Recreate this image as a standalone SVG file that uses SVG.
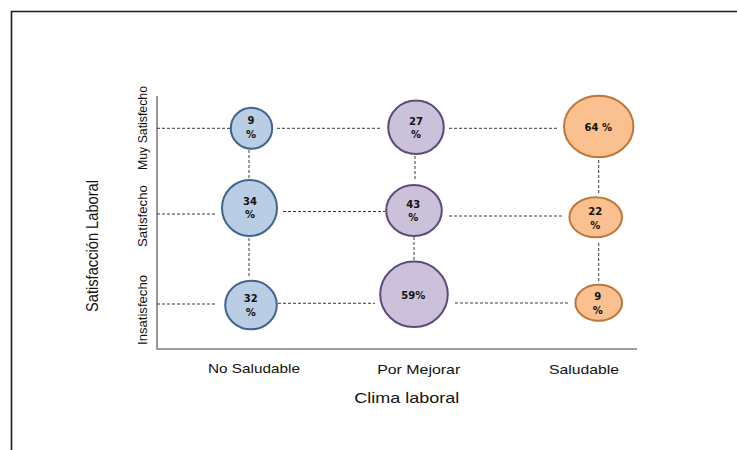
<svg xmlns="http://www.w3.org/2000/svg" width="737" height="450" viewBox="0 0 737 450">
<style>
.frame{fill:none;stroke:#1a1a1a;stroke-width:1.6}
.axis{fill:none;stroke:#808080;stroke-width:1.6}
.dash{fill:none;stroke:#3a3a3a;stroke-width:1;stroke-dasharray:3 2}
.blue{fill:#B9CDE5;stroke:#41648F;stroke-width:2}
.purple{fill:#CCC1DA;stroke:#5F497A;stroke-width:2}
.orange{fill:#FAC090;stroke:#BE763A;stroke-width:2}
.val{font-family:"DejaVu Sans",Verdana,sans-serif;font-weight:bold;font-size:10px;fill:#111;text-anchor:middle}
.cat{font-family:"Liberation Sans",Arial,sans-serif;font-size:13px;fill:#111;text-anchor:middle}
.title{font-family:"Liberation Sans",Arial,sans-serif;font-size:15px;fill:#111;text-anchor:middle}
.ytitle{font-family:"Liberation Sans",Arial,sans-serif;font-size:17px;fill:#111;text-anchor:middle}
</style>
<rect width="737" height="450" fill="#fff"/>
<path class="frame" d="M11.5,450 V11.5 H737"/>
<g id="axes">
<path class="axis" d="M157,96 V349 H637"/>
</g>
<g id="connectors">
<path class="dash" d="M157,128.3 H230 M277,128.3 H381 M449,128.3 H559"/>
<path class="dash" d="M157,214 H217 M283,211.5 H385 M449,216 H564"/>
<path class="dash" d="M157,304 H217 M278,303.3 H375 M455,303 H569"/>
<path class="dash" d="M249,150 V178 M249,238 V278"/>
<path class="dash" d="M415,156 V180 M414,237 V260"/>
<path class="dash" d="M598.7,160 V195 M598.7,243 V282"/>
</g>
<g id="node-ns-muy"><ellipse class="blue" cx="251.5" cy="128.3" rx="20.7" ry="20.5"/><text class="val" x="251" y="124.2">9</text><text class="val" x="251" y="137.5">%</text></g>
<g id="node-ns-sat"><ellipse class="blue" cx="249.5" cy="208" rx="27.5" ry="28"/><text class="val" x="250" y="205">34</text><text class="val" x="250" y="218">%</text></g>
<g id="node-ns-ins"><ellipse class="blue" cx="251" cy="305" rx="25.8" ry="24.3"/><text class="val" x="250.7" y="301.8">32</text><text class="val" x="250.7" y="316">%</text></g>
<g id="node-pm-muy"><ellipse class="purple" cx="416" cy="127.3" rx="27.8" ry="26.7"/><text class="val" x="416" y="125.2">27</text><text class="val" x="416" y="137.8">%</text></g>
<g id="node-pm-sat"><ellipse class="purple" cx="414" cy="210.5" rx="27.8" ry="25.5"/><text class="val" x="413.3" y="207.8">43</text><text class="val" x="413.3" y="221.2">%</text></g>
<g id="node-pm-ins"><ellipse class="purple" cx="414" cy="294.3" rx="33.8" ry="32.7"/><text class="val" x="413.3" y="298.5">59%</text></g>
<g id="node-s-muy"><ellipse class="orange" cx="598.7" cy="126.5" rx="34.7" ry="30.8"/><text class="val" x="598.3" y="130.8">64 %</text></g>
<g id="node-s-sat"><ellipse class="orange" cx="595.7" cy="217.3" rx="26.3" ry="20"/><text class="val" x="595.3" y="215.2">22</text><text class="val" x="595.3" y="229.2">%</text></g>
<g id="node-s-ins"><ellipse class="orange" cx="598.7" cy="302.7" rx="23.3" ry="18"/><text class="val" x="597.7" y="299.5">9</text><text class="val" x="597.7" y="313.8">%</text></g>
<g id="labels">
<text class="cat" transform="translate(146.5,128) rotate(-90)" textLength="84" lengthAdjust="spacingAndGlyphs">Muy Satisfecho</text>
<text class="cat" transform="translate(146.5,216) rotate(-90)" textLength="62" lengthAdjust="spacingAndGlyphs">Satisfecho</text>
<text class="cat" transform="translate(146.5,310) rotate(-90)" textLength="70" lengthAdjust="spacingAndGlyphs">Insatisfecho</text>
<text class="ytitle" transform="translate(98,246) rotate(-90)" textLength="132" lengthAdjust="spacingAndGlyphs">Satisfacción Laboral</text>
<text class="cat" x="254" y="373" textLength="92" lengthAdjust="spacingAndGlyphs">No Saludable</text>
<text class="cat" x="418.7" y="374" textLength="83" lengthAdjust="spacingAndGlyphs">Por Mejorar</text>
<text class="cat" x="584" y="374" textLength="70" lengthAdjust="spacingAndGlyphs">Saludable</text>
<text class="title" x="406.7" y="403" textLength="105" lengthAdjust="spacingAndGlyphs">Clima laboral</text>
</g>
</svg>
